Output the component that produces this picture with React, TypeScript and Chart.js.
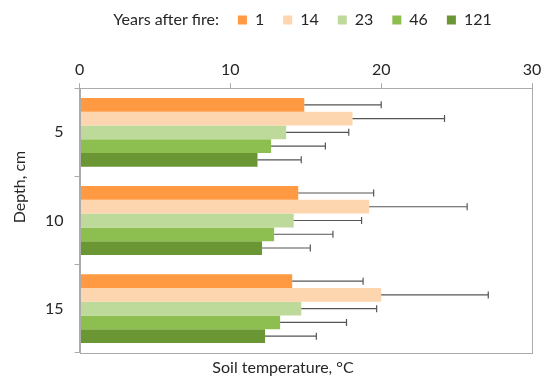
import React, { useEffect, useRef } from "react";
import { Chart, registerables } from "chart.js";

Chart.register(...registerables);

const depths = ["5", "10", "15"];
const years = ["1", "14", "23", "46", "121"];

const temp1 = [14.9, 14.5, 14.1];
const temp14 = [18.1, 19.2, 20.0];
const temp23 = [13.7, 14.2, 14.7];
const temp46 = [12.7, 12.9, 13.3];
const temp121 = [11.8, 12.1, 12.3];

const err1 = [5.1, 5.0, 4.7];
const err14 = [6.1, 6.5, 7.1];
const err23 = [4.15, 4.5, 5.0];
const err46 = [3.6, 3.9, 4.4];
const err121 = [2.9, 3.2, 3.4];

const xTicks = [0, 10, 20, 30];

const colors = ["#FF9A42", "#FDD5AF", "#BEDA9B", "#8DBE50", "#6A9633"];
const FONT = "Lato, 'Noto Sans', sans-serif";
const TEXT = "#262626";
const FS = 16;

const values = [temp1, temp14, temp23, temp46, temp121];
const errors = [err1, err14, err23, err46, err121];

const errorBarPlugin = {
  id: "errorBars",
  afterDatasetsDraw(chart: any) {
    const ctx = chart.ctx;
    const xScale = chart.scales.x;
    ctx.save();
    ctx.strokeStyle = "#555";
    ctx.lineWidth = 1.2;
    chart.data.datasets.forEach((ds: any, i: number) => {
      const meta = chart.getDatasetMeta(i);
      meta.data.forEach((el: any, j: number) => {
        const v = ds.data[j];
        const e = errors[i][j];
        const x0 = xScale.getPixelForValue(v);
        const x1 = xScale.getPixelForValue(v + e);
        const y = el.y;
        ctx.beginPath();
        ctx.moveTo(x0, y);
        ctx.lineTo(x1, y);
        ctx.moveTo(x1, y - 3.5);
        ctx.lineTo(x1, y + 3.5);
        ctx.stroke();
      });
    });
    ctx.restore();
  },
};

const legendShiftPlugin = {
  id: "legendShift",
  afterLayout(chart: any) {
    const lg = chart.legend;
    if (!lg) return;
    lg.left += 11;
    lg.right += 11;
    lg.top -= 18;
    lg.bottom -= 18;
  },
};

const framePlugin = {
  id: "frame",
  afterDraw(chart: any) {
    const { ctx, chartArea } = chart;
    ctx.save();
    ctx.strokeStyle = "#ABABAB";
    ctx.lineWidth = 1;
    ctx.strokeRect(
      Math.round(chartArea.left) + 0.5,
      Math.round(chartArea.top) + 0.5,
      Math.round(chartArea.right - chartArea.left),
      Math.round(chartArea.bottom - chartArea.top)
    );
    ctx.fillStyle = TEXT;
    ctx.font = `${FS}px ${FONT}`;
    ctx.textAlign = "center";
    ctx.textBaseline = "middle";
    ctx.translate(20, chart.height / 2 - 5);
    ctx.rotate(-Math.PI / 2);
    ctx.fillText("Depth, cm", 0, 0);
    ctx.restore();
  },
};

export default function App() {
  const ref = useRef<HTMLCanvasElement>(null);
  useEffect(() => {
    document.body.style.margin = "0";
    const chart = new Chart(ref.current as HTMLCanvasElement, {
      type: "bar",
      data: {
        labels: depths,
        datasets: years.map((y, i) => ({
          label: y,
          data: values[i],
          backgroundColor: colors[i],
          borderWidth: 0,
          categoryPercentage: 0.78,
          barPercentage: 1.0,
        })),
      },
      options: {
        indexAxis: "y",
        animation: false,
        responsive: false,
        layout: { padding: { left: 34, right: 18, top: 11, bottom: 2 } },
        scales: {
          x: {
            position: "top",
            min: 0,
            max: 30,
            afterBuildTicks: (axis: any) => {
              axis.ticks = xTicks.map((v) => ({ value: v }));
            },
            grid: {
              drawOnChartArea: false,
              drawTicks: true,
              tickLength: 5,
              color: "#ABABAB",
            },
            border: { color: "#ABABAB" },
            ticks: { color: TEXT, font: { family: FONT, size: FS }, padding: 4, maxRotation: 0 },
          },
          y: {
            grid: {
              drawOnChartArea: false,
              drawTicks: true,
              tickLength: 5,
              offset: true,
              color: "#ABABAB",
            },
            border: { color: "#ABABAB" },
            ticks: { color: TEXT, font: { family: FONT, size: FS }, padding: 11 },
          },
        },
        plugins: {
          legend: {
            position: "top",
            labels: {
              color: TEXT,
              font: { family: FONT, size: FS },
              boxWidth: 9,
              boxHeight: 9,
              padding: 19,
              generateLabels: (chart: any) => {
                const items = chart.data.datasets.map((ds: any, i: number) => ({
                  text: ds.label,
                  fillStyle: colors[i],
                  strokeStyle: colors[i],
                  lineWidth: 0,
                  hidden: false,
                  datasetIndex: i,
                  fontColor: TEXT,
                }));
                return [
                  {
                    text: "Years after fire:",
                    fillStyle: "rgba(0,0,0,0)",
                    strokeStyle: "rgba(0,0,0,0)",
                    lineWidth: 0,
                    hidden: false,
                    fontColor: TEXT,
                  },
                  ...items,
                ];
              },
            },
            onClick: () => {},
          },
          title: {
            display: true,
            position: "bottom",
            text: "Soil temperature, °C",
            color: TEXT,
            font: { family: FONT, size: FS, weight: "normal" },
            padding: { top: 5, bottom: 5 },
          },
          tooltip: { enabled: false },
        },
      },
      plugins: [errorBarPlugin, legendShiftPlugin, framePlugin],
    } as any);
    return () => chart.destroy();
  }, []);
  return <canvas ref={ref} width={550} height={384} style={{ display: "block" }} />;
}
